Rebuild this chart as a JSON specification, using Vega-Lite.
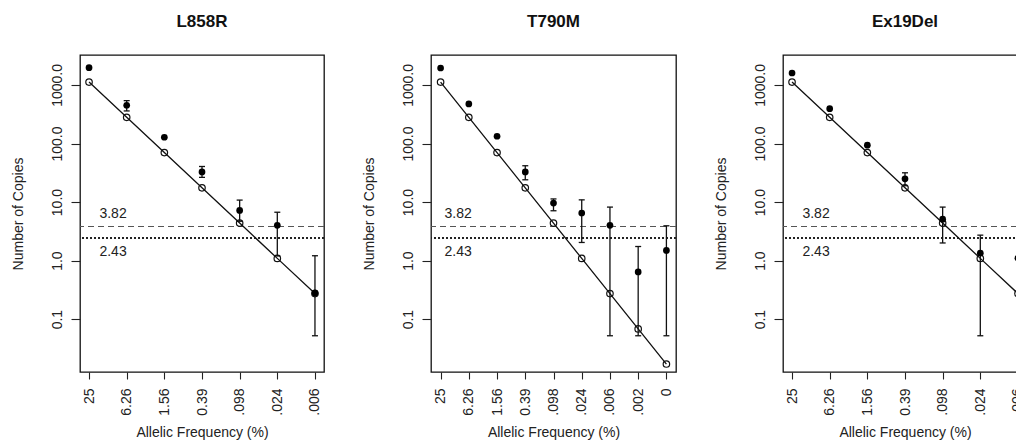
{
  "$schema": "https://vega.github.io/schema/vega-lite/v6.json",
  "padding": {"left": 10, "top": 12, "right": 0, "bottom": 0},
  "background": "white",
  "spacing": 107,
  "bounds": "flush",
  "config": {
    "view": {"stroke": "#111", "strokeWidth": 1.3},
    "font": "Liberation Sans",
    "axis": {"grid": false, "domain": false, "tickColor": "#222", "tickWidth": 1.1, "labelFont": "Liberation Sans", "labelFontSize": 14, "labelColor": "#222", "titleFont": "Liberation Sans", "titleFontSize": 14, "titleFontWeight": "normal", "titleColor": "#222"},
    "axisX": {"labelAngle": -90, "labelAlign": "right", "labelBaseline": "middle", "tickSize": 7, "labelPadding": 9, "titlePadding": 10},
    "axisY": {"labelAngle": -90, "labelAlign": "center", "labelBaseline": "bottom", "tickSize": 9, "labelPadding": 7, "titlePadding": 25},
    "title": {"fontSize": 17, "font": "Liberation Sans", "fontWeight": "bold", "color": "#111", "offset": 24, "baseline": "alphabetic"}
  },
  "datasets": {
    "pts": [
      {"panel": "L858R", "idx": 1, "freq": "25", "exp": 1120, "obs": 1970, "lo": null, "hi": null},
      {"panel": "L858R", "idx": 2, "freq": "6.26", "exp": 280, "obs": 450, "lo": 360, "hi": 540},
      {"panel": "L858R", "idx": 3, "freq": "1.56", "exp": 70, "obs": 128, "lo": null, "hi": null},
      {"panel": "L858R", "idx": 4, "freq": "0.39", "exp": 17.5, "obs": 32.7, "lo": 26.4, "hi": 40.5},
      {"panel": "L858R", "idx": 5, "freq": ".098", "exp": 4.38, "obs": 7.2, "lo": 4.7, "hi": 10.8},
      {"panel": "L858R", "idx": 6, "freq": ".024", "exp": 1.09, "obs": 4.0, "lo": 1.2, "hi": 6.7},
      {"panel": "L858R", "idx": 7, "freq": ".006", "exp": 0.273, "obs": 0.28, "lo": 0.052, "hi": 1.21},
      {"panel": "T790M", "idx": 1, "freq": "25", "exp": 1120, "obs": 1950, "lo": null, "hi": null},
      {"panel": "T790M", "idx": 2, "freq": "6.26", "exp": 280, "obs": 474, "lo": null, "hi": null},
      {"panel": "T790M", "idx": 3, "freq": "1.56", "exp": 70, "obs": 133, "lo": null, "hi": null},
      {"panel": "T790M", "idx": 4, "freq": "0.39", "exp": 17.5, "obs": 32.7, "lo": 24, "hi": 41.7},
      {"panel": "T790M", "idx": 5, "freq": ".098", "exp": 4.38, "obs": 9.6, "lo": 7.1, "hi": 11.3},
      {"panel": "T790M", "idx": 6, "freq": ".024", "exp": 1.09, "obs": 6.5, "lo": 2.04, "hi": 10.9},
      {"panel": "T790M", "idx": 7, "freq": ".006", "exp": 0.273, "obs": 4.0, "lo": 0.052, "hi": 8.2},
      {"panel": "T790M", "idx": 8, "freq": ".002", "exp": 0.068, "obs": 0.64, "lo": 0.052, "hi": 1.74},
      {"panel": "T790M", "idx": 9, "freq": "0", "exp": 0.0171, "obs": 1.49, "lo": 0.052, "hi": 3.93},
      {"panel": "Ex19Del", "idx": 1, "freq": "25", "exp": 1120, "obs": 1600, "lo": null, "hi": null},
      {"panel": "Ex19Del", "idx": 2, "freq": "6.26", "exp": 280, "obs": 394, "lo": null, "hi": null},
      {"panel": "Ex19Del", "idx": 3, "freq": "1.56", "exp": 70, "obs": 93.5, "lo": null, "hi": null},
      {"panel": "Ex19Del", "idx": 4, "freq": "0.39", "exp": 17.5, "obs": 24.9, "lo": 19, "hi": 31.6},
      {"panel": "Ex19Del", "idx": 5, "freq": ".098", "exp": 4.38, "obs": 5.1, "lo": 2.0, "hi": 8.2},
      {"panel": "Ex19Del", "idx": 6, "freq": ".024", "exp": 1.09, "obs": 1.34, "lo": 0.052, "hi": 2.72},
      {"panel": "Ex19Del", "idx": 7, "freq": ".006", "exp": 0.273, "obs": 1.1, "lo": null, "hi": null}
    ],
    "thr": [
      {"thr": 3.82, "lab": "3.82", "kind": "dash"},
      {"thr": 2.43, "lab": "2.43", "kind": "dot"}
    ]
  },
  "hconcat": [
    {
      "title": "L858R",
      "width": 244, "height": 317,
      "layer": [
        {"data": {"name": "thr"}, "transform": [{"filter": "datum.kind === 'dash'"}], "mark": {"type": "rule", "strokeDash": [6, 4], "color": "#555", "strokeWidth": 1.1}, "encoding": {"y": {"field": "thr", "type": "quantitative", "title": "Number of Copies", "scale": {"type": "log", "domain": [0.0125, 3250], "nice": false}}}},
        {"data": {"name": "thr"}, "transform": [{"filter": "datum.kind === 'dot'"}], "mark": {"type": "rule", "strokeDash": [2, 2], "color": "#222", "strokeWidth": 2}, "encoding": {"y": {"field": "thr", "type": "quantitative", "title": "Number of Copies"}}},
        {"data": {"name": "pts"}, "transform": [{"filter": "datum.panel === 'L858R'"}], "mark": {"type": "line", "color": "#111", "strokeWidth": 1.3}, "encoding": {"x": {"field": "freq", "type": "ordinal", "title": "Allelic Frequency (%)", "sort": null, "scale": {"type": "point", "padding": 0.24, "domain": ["25", "6.26", "1.56", "0.39", ".098", ".024", ".006"]}}, "y": {"field": "exp", "type": "quantitative", "title": "Number of Copies", "axis": {"values": [0.1, 1, 10, 100, 1000], "format": ".1f"}}, "order": {"field": "idx"}}},
        {"data": {"name": "thr"}, "transform": [{"filter": "datum.kind === 'dash'"}], "mark": {"type": "text", "align": "right", "baseline": "alphabetic", "dx": 0, "dy": -9, "fontSize": 14, "color": "#222"}, "encoding": {"x": {"datum": "6.26", "type": "ordinal", "title": "Allelic Frequency (%)"}, "y": {"field": "thr", "type": "quantitative", "title": "Number of Copies"}, "text": {"field": "lab"}}},
        {"data": {"name": "thr"}, "transform": [{"filter": "datum.kind === 'dot'"}], "mark": {"type": "text", "align": "right", "baseline": "top", "dx": 0, "dy": 7, "fontSize": 14, "color": "#222"}, "encoding": {"x": {"datum": "6.26", "type": "ordinal", "title": "Allelic Frequency (%)"}, "y": {"field": "thr", "type": "quantitative", "title": "Number of Copies"}, "text": {"field": "lab"}}},
        {"data": {"name": "pts"}, "transform": [{"filter": "datum.panel === 'L858R'"}], "mark": {"type": "point", "filled": false, "stroke": "#111", "strokeWidth": 1.2, "size": 42, "opacity": 1}, "encoding": {"x": {"field": "freq", "type": "ordinal", "title": "Allelic Frequency (%)"}, "y": {"field": "exp", "type": "quantitative", "title": "Number of Copies"}}},
        {"data": {"name": "pts"}, "transform": [{"filter": "datum.panel === 'L858R' && datum.lo != null"}], "mark": {"type": "rule", "color": "#111", "strokeWidth": 1.3}, "encoding": {"x": {"field": "freq", "type": "ordinal", "title": "Allelic Frequency (%)"}, "y": {"field": "lo", "type": "quantitative", "title": "Number of Copies"}, "y2": {"field": "hi"}}},
        {"data": {"name": "pts"}, "transform": [{"filter": "datum.panel === 'L858R' && datum.lo != null"}], "mark": {"type": "tick", "color": "#111", "size": 6, "thickness": 1.3, "opacity": 1}, "encoding": {"x": {"field": "freq", "type": "ordinal", "title": "Allelic Frequency (%)"}, "y": {"field": "lo", "type": "quantitative", "title": "Number of Copies"}}},
        {"data": {"name": "pts"}, "transform": [{"filter": "datum.panel === 'L858R' && datum.lo != null"}], "mark": {"type": "tick", "color": "#111", "size": 6, "thickness": 1.3, "opacity": 1}, "encoding": {"x": {"field": "freq", "type": "ordinal", "title": "Allelic Frequency (%)"}, "y": {"field": "hi", "type": "quantitative", "title": "Number of Copies"}}},
        {"data": {"name": "pts"}, "transform": [{"filter": "datum.panel === 'L858R'"}], "mark": {"type": "point", "filled": true, "color": "#000", "size": 45, "opacity": 1}, "encoding": {"x": {"field": "freq", "type": "ordinal", "title": "Allelic Frequency (%)"}, "y": {"field": "obs", "type": "quantitative", "title": "Number of Copies"}}}
      ]
    },
    {
      "title": "T790M",
      "width": 245, "height": 317,
      "layer": [
        {"data": {"name": "thr"}, "transform": [{"filter": "datum.kind === 'dash'"}], "mark": {"type": "rule", "strokeDash": [6, 4], "color": "#555", "strokeWidth": 1.1}, "encoding": {"y": {"field": "thr", "type": "quantitative", "title": "Number of Copies", "scale": {"type": "log", "domain": [0.0125, 3250], "nice": false}}}},
        {"data": {"name": "thr"}, "transform": [{"filter": "datum.kind === 'dot'"}], "mark": {"type": "rule", "strokeDash": [2, 2], "color": "#222", "strokeWidth": 2}, "encoding": {"y": {"field": "thr", "type": "quantitative", "title": "Number of Copies"}}},
        {"data": {"name": "pts"}, "transform": [{"filter": "datum.panel === 'T790M'"}], "mark": {"type": "line", "color": "#111", "strokeWidth": 1.3}, "encoding": {"x": {"field": "freq", "type": "ordinal", "title": "Allelic Frequency (%)", "sort": null, "scale": {"type": "point", "padding": 0.34, "domain": ["25", "6.26", "1.56", "0.39", ".098", ".024", ".006", ".002", "0"]}}, "y": {"field": "exp", "type": "quantitative", "title": "Number of Copies", "axis": {"values": [0.1, 1, 10, 100, 1000], "format": ".1f"}}, "order": {"field": "idx"}}},
        {"data": {"name": "thr"}, "transform": [{"filter": "datum.kind === 'dash'"}], "mark": {"type": "text", "align": "right", "baseline": "alphabetic", "dx": 3, "dy": -9, "fontSize": 14, "color": "#222"}, "encoding": {"x": {"datum": "6.26", "type": "ordinal", "title": "Allelic Frequency (%)"}, "y": {"field": "thr", "type": "quantitative", "title": "Number of Copies"}, "text": {"field": "lab"}}},
        {"data": {"name": "thr"}, "transform": [{"filter": "datum.kind === 'dot'"}], "mark": {"type": "text", "align": "right", "baseline": "top", "dx": 3, "dy": 7, "fontSize": 14, "color": "#222"}, "encoding": {"x": {"datum": "6.26", "type": "ordinal", "title": "Allelic Frequency (%)"}, "y": {"field": "thr", "type": "quantitative", "title": "Number of Copies"}, "text": {"field": "lab"}}},
        {"data": {"name": "pts"}, "transform": [{"filter": "datum.panel === 'T790M'"}], "mark": {"type": "point", "filled": false, "stroke": "#111", "strokeWidth": 1.2, "size": 42, "opacity": 1}, "encoding": {"x": {"field": "freq", "type": "ordinal", "title": "Allelic Frequency (%)"}, "y": {"field": "exp", "type": "quantitative", "title": "Number of Copies"}}},
        {"data": {"name": "pts"}, "transform": [{"filter": "datum.panel === 'T790M' && datum.lo != null"}], "mark": {"type": "rule", "color": "#111", "strokeWidth": 1.3}, "encoding": {"x": {"field": "freq", "type": "ordinal", "title": "Allelic Frequency (%)"}, "y": {"field": "lo", "type": "quantitative", "title": "Number of Copies"}, "y2": {"field": "hi"}}},
        {"data": {"name": "pts"}, "transform": [{"filter": "datum.panel === 'T790M' && datum.lo != null"}], "mark": {"type": "tick", "color": "#111", "size": 6, "thickness": 1.3, "opacity": 1}, "encoding": {"x": {"field": "freq", "type": "ordinal", "title": "Allelic Frequency (%)"}, "y": {"field": "lo", "type": "quantitative", "title": "Number of Copies"}}},
        {"data": {"name": "pts"}, "transform": [{"filter": "datum.panel === 'T790M' && datum.lo != null"}], "mark": {"type": "tick", "color": "#111", "size": 6, "thickness": 1.3, "opacity": 1}, "encoding": {"x": {"field": "freq", "type": "ordinal", "title": "Allelic Frequency (%)"}, "y": {"field": "hi", "type": "quantitative", "title": "Number of Copies"}}},
        {"data": {"name": "pts"}, "transform": [{"filter": "datum.panel === 'T790M'"}], "mark": {"type": "point", "filled": true, "color": "#000", "size": 45, "opacity": 1}, "encoding": {"x": {"field": "freq", "type": "ordinal", "title": "Allelic Frequency (%)"}, "y": {"field": "obs", "type": "quantitative", "title": "Number of Copies"}}}
      ]
    },
    {
      "title": "Ex19Del",
      "width": 244, "height": 317,
      "layer": [
        {"data": {"name": "thr"}, "transform": [{"filter": "datum.kind === 'dash'"}], "mark": {"type": "rule", "strokeDash": [6, 4], "color": "#555", "strokeWidth": 1.1}, "encoding": {"y": {"field": "thr", "type": "quantitative", "title": "Number of Copies", "scale": {"type": "log", "domain": [0.0125, 3250], "nice": false}}}},
        {"data": {"name": "thr"}, "transform": [{"filter": "datum.kind === 'dot'"}], "mark": {"type": "rule", "strokeDash": [2, 2], "color": "#222", "strokeWidth": 2}, "encoding": {"y": {"field": "thr", "type": "quantitative", "title": "Number of Copies"}}},
        {"data": {"name": "pts"}, "transform": [{"filter": "datum.panel === 'Ex19Del'"}], "mark": {"type": "line", "color": "#111", "strokeWidth": 1.3}, "encoding": {"x": {"field": "freq", "type": "ordinal", "title": "Allelic Frequency (%)", "sort": null, "scale": {"type": "point", "padding": 0.24, "domain": ["25", "6.26", "1.56", "0.39", ".098", ".024", ".006"]}}, "y": {"field": "exp", "type": "quantitative", "title": "Number of Copies", "axis": {"values": [0.1, 1, 10, 100, 1000], "format": ".1f"}}, "order": {"field": "idx"}}},
        {"data": {"name": "thr"}, "transform": [{"filter": "datum.kind === 'dash'"}], "mark": {"type": "text", "align": "right", "baseline": "alphabetic", "dx": 0, "dy": -9, "fontSize": 14, "color": "#222"}, "encoding": {"x": {"datum": "6.26", "type": "ordinal", "title": "Allelic Frequency (%)"}, "y": {"field": "thr", "type": "quantitative", "title": "Number of Copies"}, "text": {"field": "lab"}}},
        {"data": {"name": "thr"}, "transform": [{"filter": "datum.kind === 'dot'"}], "mark": {"type": "text", "align": "right", "baseline": "top", "dx": 0, "dy": 7, "fontSize": 14, "color": "#222"}, "encoding": {"x": {"datum": "6.26", "type": "ordinal", "title": "Allelic Frequency (%)"}, "y": {"field": "thr", "type": "quantitative", "title": "Number of Copies"}, "text": {"field": "lab"}}},
        {"data": {"name": "pts"}, "transform": [{"filter": "datum.panel === 'Ex19Del'"}], "mark": {"type": "point", "filled": false, "stroke": "#111", "strokeWidth": 1.2, "size": 42, "opacity": 1}, "encoding": {"x": {"field": "freq", "type": "ordinal", "title": "Allelic Frequency (%)"}, "y": {"field": "exp", "type": "quantitative", "title": "Number of Copies"}}},
        {"data": {"name": "pts"}, "transform": [{"filter": "datum.panel === 'Ex19Del' && datum.lo != null"}], "mark": {"type": "rule", "color": "#111", "strokeWidth": 1.3}, "encoding": {"x": {"field": "freq", "type": "ordinal", "title": "Allelic Frequency (%)"}, "y": {"field": "lo", "type": "quantitative", "title": "Number of Copies"}, "y2": {"field": "hi"}}},
        {"data": {"name": "pts"}, "transform": [{"filter": "datum.panel === 'Ex19Del' && datum.lo != null"}], "mark": {"type": "tick", "color": "#111", "size": 6, "thickness": 1.3, "opacity": 1}, "encoding": {"x": {"field": "freq", "type": "ordinal", "title": "Allelic Frequency (%)"}, "y": {"field": "lo", "type": "quantitative", "title": "Number of Copies"}}},
        {"data": {"name": "pts"}, "transform": [{"filter": "datum.panel === 'Ex19Del' && datum.lo != null"}], "mark": {"type": "tick", "color": "#111", "size": 6, "thickness": 1.3, "opacity": 1}, "encoding": {"x": {"field": "freq", "type": "ordinal", "title": "Allelic Frequency (%)"}, "y": {"field": "hi", "type": "quantitative", "title": "Number of Copies"}}},
        {"data": {"name": "pts"}, "transform": [{"filter": "datum.panel === 'Ex19Del'"}], "mark": {"type": "point", "filled": true, "color": "#000", "size": 45, "opacity": 1}, "encoding": {"x": {"field": "freq", "type": "ordinal", "title": "Allelic Frequency (%)"}, "y": {"field": "obs", "type": "quantitative", "title": "Number of Copies"}}}
      ]
    }
  ]
}
